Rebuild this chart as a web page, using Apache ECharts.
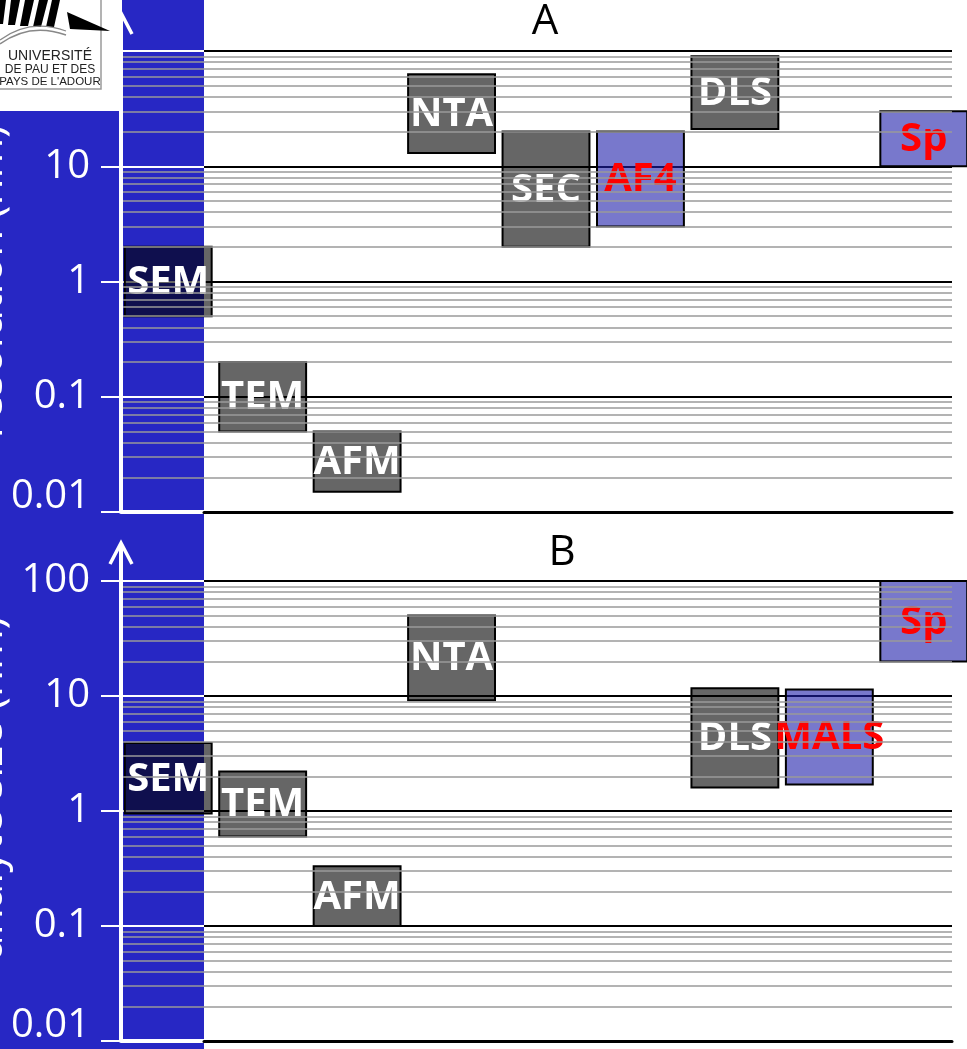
<!DOCTYPE html>
<html><head><meta charset="utf-8">
<script src="https://cdn.jsdelivr.net/npm/echarts@6/dist/echarts.min.js"></script>
<style>html,body{margin:0;padding:0;background:#fff;overflow:hidden}#c{width:967px;height:1049px}</style>
</head><body><div id="c"></div>
<script>
// ---------- data ----------
const categories = ['SEM','TEM','AFM','NTA','SEC','AF4','DLS','MALS','Sp'];
const yTickValues = [0.01, 0.1, 1, 10, 100];
const yTickLabels = ['0.01','0.1','1','10','100'];
const minorMultipliers = [2,3,4,5,6,7,8,9];
const panelALow  = [0.5, 0.05, 0.015, 13, 2, 3, 21, null, 10];
const panelAHigh = [2, 0.2, 0.05, 63, 20, 20, 90, null, 30];
const panelBLow  = [0.95, 0.6, 0.1, 9.2, null, null, 1.6, 1.7, 20];
const panelBHigh = [3.9, 2.2, 0.33, 50, null, null, 11.7, 11.4, 100];
const blueTechniques = ['AF4','MALS','Sp'];
const panelTitles = ['A','B'];
const axisNames = ['resolution (nm)','analyte size (nm)'];

// ---------- layout ----------
const panels = [
  {low: panelALow, high: panelAHigh, title: panelTitles[0], name: axisNames[0], top: 51, height: 461, titleX: 545, titleY: 22, namePad: [0,0,0,0]},
  {low: panelBLow, high: panelBHigh, title: panelTitles[1], name: axisNames[1], top: 581, height: 460, titleX: 562, titleY: 553, namePad: [0,0,0,46]}
];
const axisX = 121, bandRight = 204, gridRight = 952;
const BLUE = '#2727c4';
const FONT = '"Open Sans", "DejaVu Sans", sans-serif';

const minorValues = [];
yTickValues.slice(0, -1).forEach(d => minorMultipliers.forEach(m => minorValues.push(+(m * d).toPrecision(3))));

function renderBox(params, api) {
  const i = api.value(0), lo = api.value(1), hi = api.value(2);
  const t = api.coord([i, hi]), b = api.coord([i, lo]);
  const band = api.coord([1, 1])[0] - api.coord([0, 1])[0];
  const w = band * 0.92;
  const name = categories[i];
  const blue = blueTechniques.indexOf(name) >= 0;
  return {
    type: 'group',
    children: [
      {type: 'rect', shape: {x: t[0] - w / 2, y: t[1], width: w, height: b[1] - t[1]},
       style: {fill: blue ? 'rgba(30,30,170,0.6)' : 'rgba(0,0,0,0.6)', stroke: '#000', lineWidth: 2}},
      {type: 'text', x: t[0], y: (t[1] + b[1]) / 2 + 1,
       style: {text: name, align: 'center', verticalAlign: 'middle', fill: blue ? '#ff0000' : '#ffffff',
               font: 'bold 40px ' + FONT}}
    ]
  };
}

const grid = [], xAxis = [], yAxis = [], series = [];
panels.forEach((p, k) => {
  const base = k * 3;
  grid.push({left: axisX, width: bandRight - axisX, top: p.top, height: p.height, outerBoundsMode: 'none', containLabel: false});
  grid.push({left: bandRight, width: gridRight - bandRight, top: p.top, height: p.height, outerBoundsMode: 'none', containLabel: false});
  grid.push({left: 121, width: 850, top: p.top, height: p.height, outerBoundsMode: 'none', containLabel: false});

  xAxis.push({gridIndex: base, type: 'value', min: 0, max: 1, axisLine: {show: true, lineStyle: {color: '#fff', width: 4}},
    axisTick: {show: false}, axisLabel: {show: false}, splitLine: {show: false}});
  xAxis.push({gridIndex: base + 1, type: 'value', min: 0, max: 1, axisLine: {show: true, lineStyle: {color: '#000', width: 3}},
    axisTick: {show: false}, axisLabel: {show: false}, splitLine: {show: false}});
  xAxis.push({gridIndex: base + 2, type: 'category', data: categories, show: false});

  yAxis.push({gridIndex: base, type: 'log', logBase: 10, min: 0.01, max: 100, splitNumber: 4,
    axisLine: {show: false},
    axisTick: {show: true, length: 20, lineStyle: {color: '#fff', width: 2}},
    axisLabel: {show: true, color: '#fff', fontSize: 40, lineHeight: 30, fontFamily: FONT, margin: 31,
      verticalAlignMinLabel: 'bottom',
      formatter: v => yTickLabels[Math.round(Math.log10(v)) + 2]},
    splitLine: {show: true, lineStyle: {color: '#fff', width: 2}},
    name: p.name, nameLocation: 'middle', nameGap: 110, nameRotate: 90, nameMoveOverlap: false,
    nameTextStyle: {color: '#fff', fontSize: 44, fontFamily: FONT, padding: p.namePad}
  });
  yAxis.push({gridIndex: base + 1, type: 'log', logBase: 10, min: 0.01, max: 100, splitNumber: 4,
    axisLine: {show: false}, axisTick: {show: false}, axisLabel: {show: false},
    splitLine: {show: true, lineStyle: {color: '#000', width: 2}}});
  yAxis.push({gridIndex: base + 2, type: 'log', logBase: 10, min: 0.01, max: 100, show: false});

  [base, base + 1].forEach(gi => {
    series.push({type: 'line', xAxisIndex: gi, yAxisIndex: gi, data: [[0.5, 1]], showSymbol: false, silent: true,
      lineStyle: {opacity: 0},
      markLine: {silent: true, symbol: ['none', 'none'], label: {show: false}, animation: false,
        lineStyle: {color: '#9a9a9a', width: 1.6, type: 'solid'},
        emphasis: {disabled: true},
        data: minorValues.map(v => ({yAxis: v}))}
    });
  });

  const boxData = [];
  categories.forEach((c, i) => { if (p.low[i] != null) boxData.push([i, p.low[i], p.high[i]]); });
  series.push({type: 'custom', xAxisIndex: base + 2, yAxisIndex: base + 2, renderItem: renderBox,
    encode: {x: 0, y: [1, 2]}, data: boxData, clip: false, silent: true});
});

const option = {animation: false, grid, xAxis, yAxis, series};
const chart = echarts.init(document.getElementById('c'), null, {renderer: 'canvas'});
chart.setOption(option);

// ---------- decorations ----------
const elements = [
  {type: 'rect', shape: {x: 0, y: 0, width: bandRight, height: 1049}, style: {fill: BLUE}, z: -10, silent: true}
];
panels.forEach((p, k) => {
  const gi = k * 3;
  const tp = chart.convertToPixel({gridIndex: gi}, [0, 100]);
  const bp = chart.convertToPixel({gridIndex: gi}, [0, 0.01]);
  const x = tp[0];
  elements.push({type: 'polyline', shape: {points: [[x, bp[1] + 1], [x, tp[1] - 38]]},
    style: {stroke: '#fff', lineWidth: 4}, z: 50, silent: true});
  elements.push({type: 'polyline', shape: {points: [[x - 11, tp[1] - 17], [x, tp[1] - 38], [x + 11, tp[1] - 17]]},
    style: {stroke: '#fff', lineWidth: 3.5, fill: null, lineJoin: 'miter'}, z: 50, silent: true});
  elements.push({type: 'text', x: p.titleX, y: p.titleY,
    style: {text: p.title, align: 'center', verticalAlign: 'middle', fill: '#000', font: '42px ' + FONT}, z: 50, silent: true});
});

// logo (white box top-left)
const LZ = 200;
const logoParts = [
  {type: 'rect', shape: {x: 0, y: 0, width: 122, height: 111}, style: {fill: '#fff'}},
  {type: 'rect', shape: {x: -1, y: -1, width: 102, height: 90}, style: {fill: '#fff', stroke: '#9a9a9a', lineWidth: 1.5}},
  {type: 'polygon', shape: {points: [[0,0],[6,0],[3,24],[0,24]]}, style: {fill: '#000'}},
  {type: 'polygon', shape: {points: [[11,0],[20,0],[15,25],[8,25]]}, style: {fill: '#000'}},
  {type: 'polygon', shape: {points: [[25,0],[34,0],[28,26],[20,26]]}, style: {fill: '#000'}},
  {type: 'polygon', shape: {points: [[39,0],[48,0],[41,27],[33,27]]}, style: {fill: '#000'}},
  {type: 'polygon', shape: {points: [[52,0],[60,0],[54,27],[46,27]]}, style: {fill: '#000'}},
  {type: 'polygon', shape: {points: [[67,12],[110,31],[70,29]]}, style: {fill: '#000'}},
  {type: 'bezierCurve', shape: {x1: 0, y1: 44, cpx1: 30, cpy1: 22, x2: 66, y2: 35}, style: {stroke: '#888', lineWidth: 1.5, fill: null}},
  {type: 'bezierCurve', shape: {x1: 0, y1: 40, cpx1: 30, cpy1: 18, x2: 66, y2: 31}, style: {stroke: '#888', lineWidth: 1.2, fill: null}},
  {type: 'text', x: 50, y: 56, style: {text: 'UNIVERSITÉ', align: 'center', verticalAlign: 'middle', fill: '#222', font: '14px "Liberation Sans", sans-serif'}},
  {type: 'text', x: 50, y: 70, style: {text: 'DE PAU ET DES', align: 'center', verticalAlign: 'middle', fill: '#222', font: '12px "Liberation Sans", sans-serif'}},
  {type: 'text', x: 50, y: 82, style: {text: "PAYS DE L'ADOUR", align: 'center', verticalAlign: 'middle', fill: '#222', font: '11.5px "Liberation Sans", sans-serif'}}
];
logoParts.forEach((el, j) => { el.z = LZ + j; el.silent = true; elements.push(el); });

chart.setOption({graphic: {elements}});
</script>
</body></html>
